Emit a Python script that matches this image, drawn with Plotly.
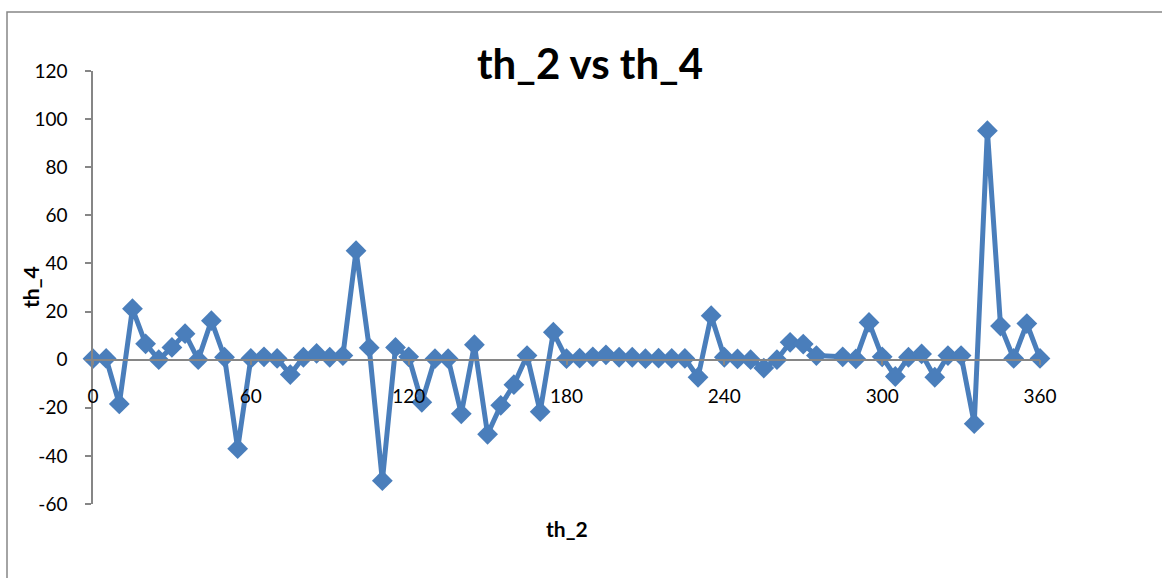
import plotly.graph_objects as go

th_2 = [0, 5, 10, 15, 20, 25, 30, 35, 40, 45, 50, 55, 60, 65, 70, 75, 80, 85, 90, 95,
        100, 105, 110, 115, 120, 125, 130, 135, 140, 145, 150, 155, 160, 165, 170, 175,
        180, 185, 190, 195, 200, 205, 210, 215, 220, 225, 230, 235, 240, 245, 250, 255,
        260, 265, 270, 275, 285, 290, 295, 300, 305, 310, 315, 320, 325, 330, 335, 340,
        345, 350, 355, 360]
th_4 = [0.4, 0.5, -18.4, 21.2, 6.6, 0, 5.1, 10.8, 0, 16.2, 1, -37, 0.5, 1.2, 0.5, -6.2,
        1, 2.6, 1, 1.7, 45.3, 5, -50.3, 5.1, 1.2, -17.7, 0.4, 0.4, -22.5, 6.2, -31, -19,
        -10.4, 1.7, -21.6, 11.4, 0.4, 0.6, 1.2, 2, 1, 1, 0.4, 0.6, 0.5, 0.5, -7.3, 18.3,
        1, 0.3, 0, -3.5, 0, 7.2, 6.5, 1.7, 1.2, 0.3, 15.5, 1.2, -7, 1, 2.4, -7.3, 1.7,
        1.7, -26.6, 95.2, 14, 0.5, 15, 0.5]

x_ticks = [0, 60, 120, 180, 240, 300, 360]
y_ticks = [-60, -40, -20, 0, 20, 40, 60, 80, 100, 120]

W, H = 1162, 578
L, R, T, B = 93, 1040, 71, 504
pw, ph = R - L, B - T

def px(xp):
    return (xp - L) / pw

def py(yp):
    return (B - yp) / ph

FONT = "Lato"
blue = "#4A7EBB"
gray = "#868686"

fig = go.Figure()
fig.add_trace(go.Scatter(
    x=th_2, y=th_4, mode="lines+markers",
    line=dict(color=blue, width=5),
    marker=dict(symbol="diamond", size=16, color=blue),
    showlegend=False, cliponaxis=False,
))

fig.update_layout(
    width=W, height=H,
    margin=dict(l=L, r=W - R, t=T, b=H - B),
    paper_bgcolor="white", plot_bgcolor="white",
    font=dict(family=FONT, color="black", size=19),
    xaxis=dict(
        range=[0, 360], tickvals=x_ticks, ticktext=[str(v) for v in x_ticks],
        showgrid=False, zeroline=False, showline=True, linecolor=gray, linewidth=1.5,
        ticks="outside", ticklen=5, tickcolor=gray, tickwidth=1.5,
        anchor="free", position=60 / 180, ticklabelstandoff=15,
        tickfont=dict(family=FONT, size=19, color="black"),
    ),
    yaxis=dict(
        range=[-60, 120], tickvals=y_ticks, ticktext=[str(v) for v in y_ticks],
        showgrid=False, zeroline=False, showline=True, linecolor=gray, linewidth=1.5,
        ticks="outside", ticklen=6, tickcolor=gray, tickwidth=1.5,
        ticklabelstandoff=14,
        tickfont=dict(family=FONT, size=19, color="black"),
    ),
    shapes=[dict(type="rect", xref="paper", yref="paper",
                 x0=px(7), x1=px(1175), y0=py(12), y1=py(595),
                 line=dict(color=gray, width=1.5), fillcolor="rgba(0,0,0,0)", layer="below")],
    annotations=[
        dict(text="<b>th_2 vs th_4</b>", xref="paper", yref="paper",
             x=px(590), y=py(63), xanchor="center", yanchor="middle", showarrow=False,
             font=dict(family=FONT, size=42, color="black")),
        dict(text="<b>th_2</b>", xref="paper", yref="paper",
             x=px(567), y=py(528), xanchor="center", yanchor="middle", showarrow=False,
             font=dict(family=FONT, size=21, color="black")),
        dict(text="<b>th_4</b>", xref="paper", yref="paper", textangle=-90,
             x=px(30), y=py(287), xanchor="center", yanchor="middle", showarrow=False,
             font=dict(family=FONT, size=21, color="black")),
    ],
)

fig.write_html("out.html")
